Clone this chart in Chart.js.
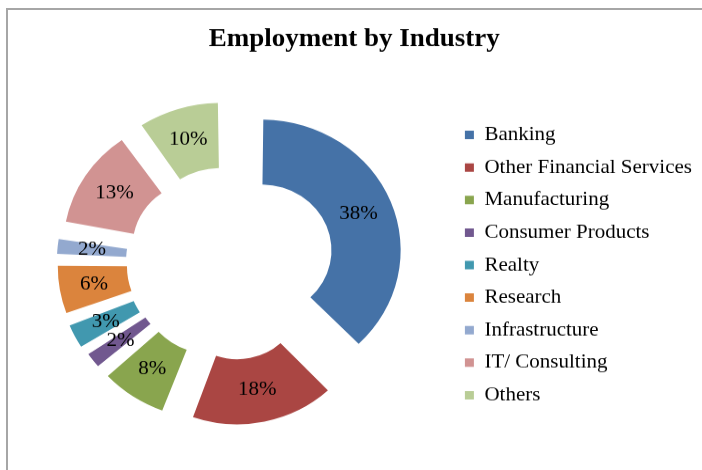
<!DOCTYPE html>
<html>
<head>
<meta charset="utf-8">
<script src="https://cdn.jsdelivr.net/npm/chart.js@4.4.0/dist/chart.umd.min.js"></script>
<style>
  html, body { margin: 0; padding: 0; background: #fff; }
  #wrap { position: relative; width: 702px; height: 470px; overflow: hidden; }
  #frame { position: absolute; left: 6px; top: 8px; right: 0; bottom: 0; border-top: 2px solid #a6a6a6; border-left: 2px solid #a6a6a6; }
  /* the original picture is squeezed a little vertically, so draw at 702x500 and show at 702x470 */
  canvas { position: absolute; left: 0; top: 0; }
</style>
</head>
<body>
<div id="wrap">
  <div id="frame"></div>
  <canvas id="chart" width="702" height="500" style="width:702px;height:470px"></canvas>
</div>
<script>
const industries = ['Banking', 'Other Financial Services', 'Manufacturing', 'Consumer Products', 'Realty', 'Research', 'Infrastructure', 'IT/ Consulting', 'Others'];
// shares in % (labels show them rounded)
const shares = [37.9, 17.6, 7.9, 2.4, 3.4, 6.2, 2.4, 12.6, 9.6];
const sliceColors = ['#4572A7', '#AA4643', '#89A54E', '#71588F', '#4198AF', '#DB843D', '#93A9CF', '#D19392', '#B9CD96'];
// how far each slice is pulled out (chart.js offset)
const explode = [141, 162, 114, 93, 100, 107, 95, 132, 120];

const serif = '"Liberation Serif", "Times New Roman", serif';

// percent text in the middle of each slice
const sliceLabels = {
  id: 'sliceLabels',
  afterDatasetsDraw(chart) {
    const ctx = chart.ctx;
    const meta = chart.getDatasetMeta(0);
    ctx.save();
    ctx.font = '21px ' + serif;
    ctx.fillStyle = '#000';
    ctx.textAlign = 'center';
    ctx.textBaseline = 'middle';
    meta.data.forEach((arc, i) => {
      const p = arc.getProps(['x', 'y', 'startAngle', 'endAngle', 'innerRadius', 'outerRadius', 'circumference'], true);
      const off = (arc.options.offset || 0) / 4;
      const fix = 1 - Math.sin(Math.min(Math.PI, p.circumference));
      const mid = (p.startAngle + p.endAngle) / 2;
      const r = (p.innerRadius + p.outerRadius) / 2 + off + off * fix;
      ctx.fillText(Math.round(shares[i]) + '%', p.x + Math.cos(mid) * r, p.y + Math.sin(mid) * r);
    });
    ctx.restore();
  }
};

new Chart(document.getElementById('chart'), {
  type: 'doughnut',
  data: {
    labels: industries,
    datasets: [{
      data: shares,
      backgroundColor: sliceColors,
      borderWidth: 0,
      offset: explode,
      hoverOffset: 0,
      radius: 128.1,
      clip: false
    }]
  },
  options: {
    responsive: false,
    devicePixelRatio: 1,
    animation: false,
    cutout: '46%',
    layout: { padding: { left: 6.4, right: 0, top: 0, bottom: 0 } },
    plugins: {
      title: {
        display: true,
        text: 'Employment by Industry',
        color: '#000',
        font: { family: serif, size: 27, weight: 'bold' },
        padding: { top: 25.8, bottom: 0.4 }
      },
      legend: {
        position: 'right',
        align: 'center',
        title: { display: true, text: '', font: { size: 1 }, padding: { top: 62.8, bottom: 0 } },
        labels: {
          color: '#000',
          font: { family: serif, size: 21 },
          boxWidth: 9,
          boxHeight: 9,
          padding: 13.6
        }
      },
      tooltip: { enabled: false }
    }
  },
  plugins: [sliceLabels]
});
</script>
</body>
</html>
